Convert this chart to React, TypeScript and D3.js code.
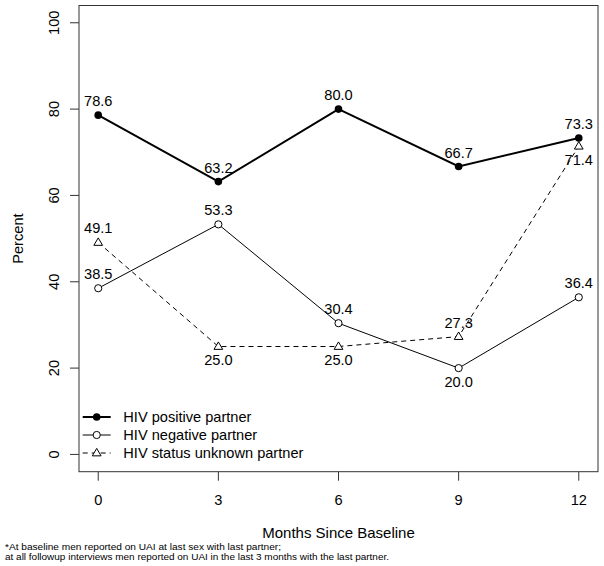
import React from "react";
import * as d3 from "d3";

const months = [0, 3, 6, 9, 12];
const positive = [78.6, 63.2, 80.0, 66.7, 73.3];
const negative = [38.5, 53.3, 30.4, 20.0, 36.4];
const unknown = [49.1, 25.0, 25.0, 27.3, 71.4];
const positivePos = ["above", "above", "above", "above", "above"];
const negativePos = ["above", "above", "above", "below", "above"];
const unknownPos = ["above", "below", "below", "above", "below"];
const yTicks = [0, 20, 40, 60, 80, 100];
const xTicks = [0, 3, 6, 9, 12];
const legendLabels = ["HIV positive partner", "HIV negative partner", "HIV status unknown partner"];
const footnote = [
  "*At baseline men reported on UAI at last sex with last partner;",
  "at all followup interviews men reported on UAI in the last 3 months with the last partner.",
];

const W = 604;
const H = 566;
const L = 79, R = 598, T = 5.5, B = 471.7;
const FONT = "'Liberation Sans', Arial, Helvetica, sans-serif";
const FS = 14.6;
const footWidths = [276, 384];

export default function App() {
  const x = d3.scaleLinear().domain([-0.48, 12.48]).range([L, R]);
  const y = d3.scaleLinear().domain([-4, 104]).range([B, T]);
  const line = d3.line<number>().x((_, i) => x(months[i])).y((d) => y(d));

  const tri = (cx: number, cy: number, s = 4.6) =>
    `M${cx},${cy - s}L${cx + s * 0.95},${cy + s * 0.62}L${cx - s * 0.95},${cy + s * 0.62}Z`;

  const labels = (vals: number[], pos: string[]) =>
    vals.map((v, i) => (
      <text
        key={i}
        x={x(months[i])}
        y={pos[i] === "above" ? y(v) - 9 : y(v) + 18.5}
        textAnchor="middle"
        fontSize={FS}
      >
        {v.toFixed(1)}
      </text>
    ));

  const legY = [417, 435, 453];
  const legX0 = 82.7, legX1 = 110.7, legPX = 96.7;

  return (
    <div style={{ position: "absolute", left: 0, top: 0 }}>
      <svg width={W} height={H} style={{ display: "block", background: "#fff" }} fontFamily={FONT}>
        <rect x={0} y={0} width={W} height={H} fill="#fff" />
        {/* box */}
        <rect x={L} y={T} width={R - L} height={B - T} fill="none" stroke="#333" strokeWidth={1} />
        {/* y axis */}
        {yTicks.map((t) => (
          <g key={t}>
            <line x1={L} x2={L - 9} y1={y(t)} y2={y(t)} stroke="#333" />
            <text
              transform={`translate(58.5,${y(t)}) rotate(-90)`}
              textAnchor="middle"
              fontSize={FS}
            >
              {t}
            </text>
          </g>
        ))}
        {/* x axis */}
        {xTicks.map((t) => (
          <g key={t}>
            <line x1={x(t)} x2={x(t)} y1={B} y2={B + 9} stroke="#333" />
            <text x={x(t)} y={505} textAnchor="middle" fontSize={FS}>
              {t}
            </text>
          </g>
        ))}
        <text transform={`translate(23.3,${(T + B) / 2}) rotate(-90)`} textAnchor="middle" fontSize={FS}>
          Percent
        </text>
        <text x={(L + R) / 2} y={538} textAnchor="middle" fontSize={15}>
          Months Since Baseline
        </text>
        {footnote.map((f, i) => (
          <text
            key={i}
            x={5}
            y={549.8 + i * 10}
            fontSize={8.6}
            textLength={footWidths[i]}
            lengthAdjust="spacingAndGlyphs"
          >
            {f}
          </text>
        ))}

        {/* series lines */}
        <path d={line(unknown) || ""} fill="none" stroke="#000" strokeWidth={1} strokeDasharray="5,4" />
        <path d={line(negative) || ""} fill="none" stroke="#000" strokeWidth={1} />
        <path d={line(positive) || ""} fill="none" stroke="#000" strokeWidth={2} />

        {/* markers */}
        {unknown.map((v, i) => (
          <path key={i} d={tri(x(months[i]), y(v))} fill="#fff" stroke="#000" strokeWidth={1} />
        ))}
        {negative.map((v, i) => (
          <circle key={i} cx={x(months[i])} cy={y(v)} r={3.6} fill="#fff" stroke="#000" strokeWidth={1} />
        ))}
        {positive.map((v, i) => (
          <circle key={i} cx={x(months[i])} cy={y(v)} r={3.8} fill="#000" />
        ))}

        {/* labels */}
        {labels(positive, positivePos)}
        {labels(negative, negativePos)}
        {labels(unknown, unknownPos)}

        {/* legend */}
        <line x1={legX0} x2={legX1} y1={legY[0]} y2={legY[0]} stroke="#000" strokeWidth={2} />
        <circle cx={legPX} cy={legY[0]} r={3.8} fill="#000" />
        <line x1={legX0} x2={legX1} y1={legY[1]} y2={legY[1]} stroke="#000" strokeWidth={1} />
        <circle cx={legPX} cy={legY[1]} r={3.6} fill="#fff" stroke="#000" />
        <line x1={legX0} x2={legX1} y1={legY[2]} y2={legY[2]} stroke="#000" strokeWidth={1} strokeDasharray="5,4" />
        <path d={tri(legPX, legY[2])} fill="#fff" stroke="#000" />
        {legendLabels.map((l, i) => (
          <text key={i} x={123.3} y={legY[i] + 5.2} fontSize={FS}>
            {l}
          </text>
        ))}
      </svg>
    </div>
  );
}
